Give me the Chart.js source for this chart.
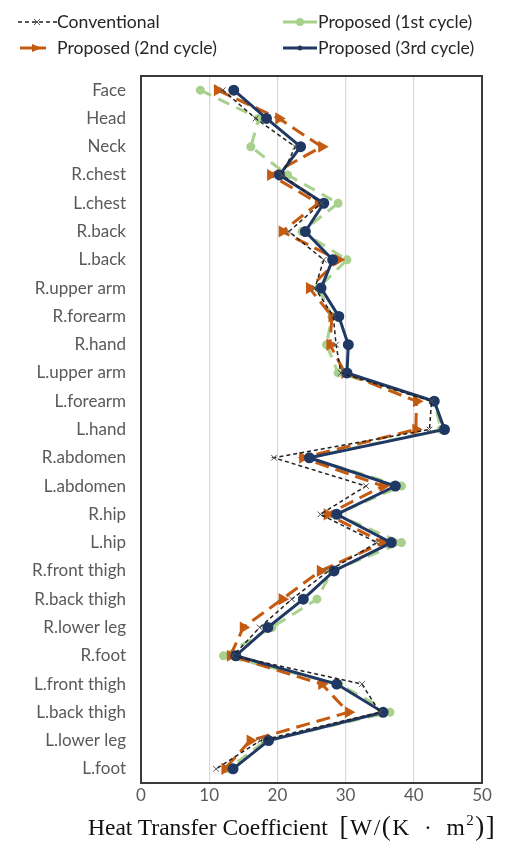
<!DOCTYPE html>
<html>
<head>
<meta charset="utf-8">
<script src="https://cdn.jsdelivr.net/npm/chart.js@4.4.1/dist/chart.umd.min.js"></script>
<style>
  html,body{margin:0;padding:0;background:#fff;}
  #wrap{position:relative;width:516px;height:844px;overflow:hidden;}
  canvas{position:absolute;left:0;top:0;}
  .lg{position:absolute;font-family:Lato,"Open Sans",sans-serif;font-size:17.6px;color:#262626;white-space:nowrap;line-height:20px;}
  .lg svg{position:absolute;left:0;top:0;}
  .xt{position:absolute;top:812px;font-family:"Liberation Serif","DejaVu Serif",serif;font-size:23.5px;color:#111;white-space:nowrap;line-height:28px;}
  .xt sup{font-size:15px;vertical-align:10px;line-height:0;}
  .xt .u{letter-spacing:1.5px;}
  .xt .b{font-size:27px;}
</style>
</head>
<body>
<div id="wrap">
  <canvas id="c" width="516" height="844"></canvas>
  <div class="lg" style="left:18px;top:12px;width:220px;height:20px;">
    <svg width="40" height="20"><line x1="0" y1="10" x2="39" y2="10" stroke="#222" stroke-width="1.5" stroke-dasharray="4,3"/><path d="M16 7 L22 13 M22 7 L16 13" stroke="#555" stroke-width="1"/></svg>
    <span style="position:absolute;left:39px;top:0;">Conventional</span>
  </div>
  <div class="lg" style="left:283px;top:12px;width:230px;height:20px;">
    <svg width="35" height="20"><line x1="0" y1="10" x2="34" y2="10" stroke="#a9d18e" stroke-width="3"/><circle cx="17" cy="10" r="4" fill="#a9d18e"/></svg>
    <span style="position:absolute;left:35px;top:0;">Proposed (1st cycle)</span>
  </div>
  <div class="lg" style="left:18px;top:38px;width:230px;height:20px;">
    <svg width="35" height="20"><line x1="2" y1="10" x2="28" y2="10" stroke="#c55a11" stroke-width="3"/><path d="M14 6 L24 10 L14 14 Z" fill="#c55a11"/></svg>
    <span style="position:absolute;left:39px;top:0;">Proposed (2nd cycle)</span>
  </div>
  <div class="lg" style="left:283px;top:38px;width:230px;height:20px;">
    <svg width="35" height="20"><line x1="0" y1="10" x2="34" y2="10" stroke="#203864" stroke-width="3"/><circle cx="17" cy="10" r="2.5" fill="#203864"/></svg>
    <span style="position:absolute;left:35px;top:0;">Proposed (3rd cycle)</span>
  </div>
  <div class="xt" style="left:88px;">Heat Transfer Coefficient&nbsp;&nbsp;<span class="u"><span class="b">[</span>W/<span class="b">(</span>K&ensp;·&ensp;m<sup>2</sup><span class="b">)]</span></span></div>
</div>
<script>
const categories = ["Face","Head","Neck","R.chest","L.chest","R.back","L.back","R.upper arm","R.forearm","R.hand","L.upper arm","L.forearm","L.hand","R.abdomen","L.abdomen","R.hip","L.hip","R.front thigh","R.back thigh","R.lower leg","R.foot","L.front thigh","L.back thigh","L.lower leg","L.foot"];
const conventional = [12.0,16.8,22.6,20.7,26.4,21.7,26.8,25.5,28.2,28.6,29.3,42.6,42.3,19.5,33.0,26.3,34.6,27.5,22.1,17.4,13.5,32.4,35.0,17.5,11.0];
const proposed1 = [8.7,17.3,16.1,21.5,28.9,23.6,30.2,26.0,28.0,27.2,28.9,43.0,44.0,24.5,38.2,28.5,38.2,28.0,25.8,19.2,12.1,29.0,36.5,18.3,12.8];
const proposed2 = [11.2,20.2,26.5,19.0,26.0,20.7,28.9,24.7,28.0,27.7,29.9,40.4,40.3,23.7,35.5,27.3,35.5,26.3,20.7,15.0,13.1,26.5,30.4,16.0,12.3];
const proposed3 = [13.6,18.4,23.4,20.3,26.8,24.1,28.1,26.4,29.0,30.4,30.2,43.0,44.5,24.7,37.3,28.7,36.7,28.3,23.8,18.6,13.9,28.7,35.5,18.7,13.5];
const xTicks = [0,10,20,30,40,50];

const frame = {
  id:'frame',
  afterDraw(chart){
    const a = chart.chartArea, ctx = chart.ctx;
    ctx.save();
    ctx.strokeStyle = '#3a3a3a';
    ctx.lineWidth = 2;
    ctx.strokeRect(a.left, a.top, a.right-a.left, a.bottom-a.top);
    ctx.restore();
  }
};

new Chart(document.getElementById('c'), {
  type:'line',
  data:{
    labels:categories,
    datasets:[
      {label:'Conventional', data:conventional, borderColor:'#222', borderWidth:1.5, borderDash:[4,3],
       pointStyle:'crossRot', pointRadius:4, pointBorderColor:'#555', pointBorderWidth:1, pointBackgroundColor:'#555', order:0},
      {label:'Proposed (3rd cycle)', data:proposed3, borderColor:'#203864', borderWidth:3,
       pointStyle:'circle', pointRadius:4, pointBackgroundColor:'#203864', pointBorderColor:'#203864', order:1},
      {label:'Proposed (2nd cycle)', data:proposed2, borderColor:'#c55a11', borderWidth:3, borderDash:[14,7],
       pointStyle:'triangle', pointRotation:90, pointRadius:4, pointBackgroundColor:'#c55a11', pointBorderColor:'#c55a11', order:2},
      {label:'Proposed (1st cycle)', data:proposed1, borderColor:'#a9d18e', borderWidth:3, borderDash:[12,8],
       pointStyle:'circle', pointRadius:3, pointBackgroundColor:'#a9d18e', pointBorderColor:'#a9d18e', order:3}
    ]
  },
  options:{
    indexAxis:'y',
    responsive:false,
    animation:false,
    devicePixelRatio:1,
    layout:{padding:{top:76,right:34,bottom:31,left:0}},
    plugins:{legend:{display:false},tooltip:{enabled:false}},
    elements:{line:{tension:0}},
    scales:{
      x:{type:'linear',min:0,max:50,
        afterBuildTicks(s){ s.ticks = xTicks.map(v=>({value:v})); },
        grid:{color:'#d9d9d9',lineWidth:1.2,drawTicks:false},
        border:{display:false},
        ticks:{color:'#595959',font:{family:'Lato',size:17},padding:2},
        afterFit(s){ s.height = 30; }
      },
      y:{type:'category',offset:true,
        grid:{display:false,drawTicks:false},
        border:{display:false},
        ticks:{color:'#595959',font:{family:'Lato',size:17},padding:15,autoSkip:false},
        afterFit(s){ s.width = 141; }
      }
    }
  },
  plugins:[frame]
});
</script>
</body>
</html>
